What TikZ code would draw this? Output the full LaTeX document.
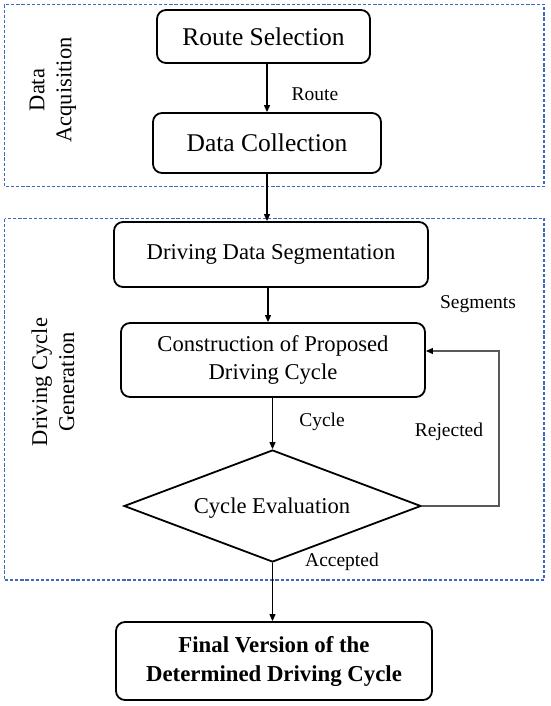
\documentclass[tikz,border=0pt]{standalone}
\usepackage{fontspec}
\setmainfont{Liberation Serif}
\usetikzlibrary{shapes.geometric,arrows.meta,calc}
\definecolor{dashblue}{RGB}{60,104,190}
\begin{document}
\begin{tikzpicture}[x=1pt,y=-1pt,
  box/.style={draw=black,line width=1.8pt,rounded corners=9pt,inner sep=0pt,align=center},
  bigtxt/.style={font=\fontsize{25.5}{30}\selectfont},
  midtxt/.style={font=\fontsize{22.6}{28}\selectfont},
  lbl/.style={font=\fontsize{19.5}{23}\selectfont,inner sep=0pt},
  side/.style={font=\fontsize{22.5}{27}\selectfont,rotate=90,align=center,inner sep=0pt},
  arr/.style={line width=1.1pt,-{Triangle[length=7pt,width=6pt]}},
  fb/.style={line width=1.1pt,draw=black!65,-{Triangle[length=7pt,width=6pt,fill=black,color=black]}},
  grp/.style={draw=dashblue,line width=1.9pt,dash pattern=on 3.2pt off 1.9pt}]
\useasboundingbox (0,0) rectangle (550,706);
\fill[white] (0,0) rectangle (550,706);
% group frames
\draw[grp] (4.5,4.5) rectangle (544,186.5);
\draw[grp] (4.5,218.5) rectangle (544,580);
% side labels
\node[side] (lA) at (53,90) {Data\\Acquisition};
\node[side] (lB) at (53,382) {Driving Cycle\\Generation};
% boxes
\node[box,bigtxt,minimum width=213pt,minimum height=53pt] (RS) at (263.5,36.5) {Route Selection};
\node[box,bigtxt,minimum width=228pt,minimum height=60pt] (DC) at (267,143) {Data Collection};
\node[box,midtxt,minimum width=314pt,minimum height=65pt] (DDS) at (271,254.5) {Driving Data Segmentation};
\node[box,midtxt,minimum width=304pt,minimum height=74pt] (CON) at (273,360) {Construction of Proposed\\Driving Cycle};
\node[diamond,draw=black,line width=1.8pt,inner sep=0pt,minimum width=297pt,minimum height=112pt,midtxt] (DIA) at (272.5,506) {};
\node[midtxt,inner sep=0pt] (DIAt) at (272,508) {Cycle Evaluation};
\node[box,minimum width=316pt,minimum height=78pt,font=\fontsize{22.8}{29}\selectfont\bfseries] (FIN) at (274,661) {Final Version of the\\Determined Driving Cycle};
% labels
\node[lbl] (tRoute) at (315,94) {Route};
\node[lbl] (tSeg) at (478,304) {Segments};
\node[lbl] (tCyc) at (322,422) {Cycle};
\node[lbl] (tRej) at (449,432) {Rejected};
\node[lbl] (tAcc) at (342,562) {Accepted};
% connectors
\coordinate (ax) at (268,0);
\coordinate (fbc) at (499,351);
\draw[arr] (RS.south -| DC.north) -- (DC.north);
\draw[arr] (DC.south) -- (DC.south |- DDS.north);
\draw[arr] (DDS.south -| ax) -- (CON.north -| ax);
\draw[arr] (CON.south -| DIA.north) -- (DIA.north);
\draw[arr] (DIA.south) -- (FIN.north -| DIA.south);
\draw[fb] (DIA.east) -| (fbc) -- (fbc -| CON.east);
\end{tikzpicture}
\end{document}
